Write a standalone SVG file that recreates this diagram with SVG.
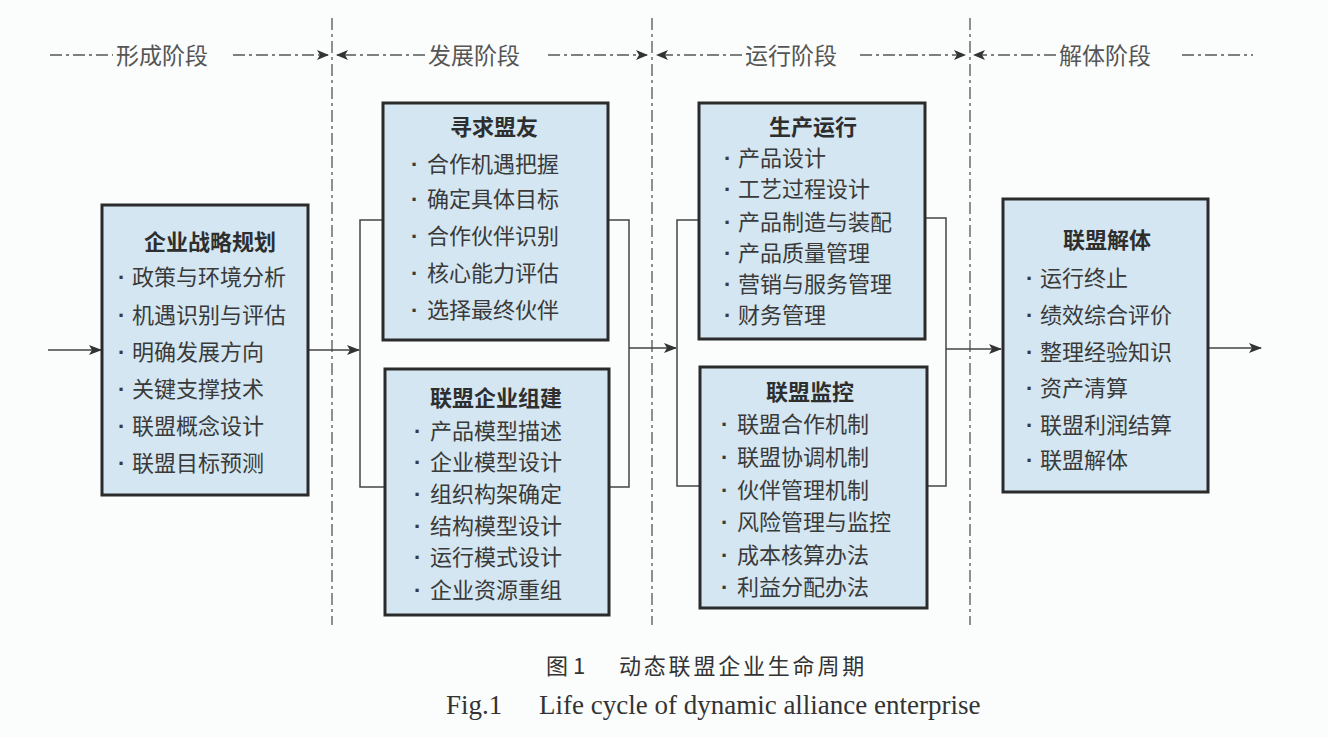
<svg xmlns="http://www.w3.org/2000/svg" width="1328" height="737" viewBox="0 0 1328 737">
<defs>
<style>
.bg{fill:#fbfcfc}
.box{fill:#d3e6f1;stroke:#2b2b2b;stroke-width:3}
.ttl{font-family:"Noto Sans CJK SC",sans-serif;font-size:22px;font-weight:bold;fill:#2e2e2e;text-anchor:middle}
.itm{font-family:"Noto Sans CJK SC",sans-serif;font-size:22px;fill:#3a3a3a}
.bul{font-family:"Liberation Sans",sans-serif;font-weight:bold}
.hdr{font-family:"Noto Sans CJK SC",sans-serif;font-size:23px;fill:#555}
.con{fill:none;stroke:#444;stroke-width:1.5}
.dash{fill:none;stroke:#555;stroke-width:1.5;stroke-dasharray:12 4 3 4}
.vdash{fill:none;stroke:#555;stroke-width:1.3;stroke-dasharray:12 4 3 4}
.cap{font-family:"Noto Sans CJK SC",sans-serif;font-size:22px;fill:#333}
.capen{font-family:"Liberation Serif",serif;font-size:27px;fill:#333}
</style>
<marker id="ar" markerWidth="13" markerHeight="10" refX="12" refY="5" orient="auto" markerUnits="userSpaceOnUse">
<path d="M0,0 L13,5 L0,10 L3,5 Z" fill="#333"/>
</marker>
<marker id="ah" markerWidth="12" markerHeight="10" refX="11" refY="5" orient="auto" markerUnits="userSpaceOnUse">
<path d="M0,0 L12,5 L0,10 L3,5 Z" fill="#333"/>
</marker>
</defs>
<rect class="bg" x="0" y="0" width="1328" height="737"/>

<g id="phase-dividers">
<line class="vdash" x1="332" y1="18" x2="332" y2="625"/>
<line class="vdash" x1="652" y1="18" x2="652" y2="625"/>
<line class="vdash" x1="970" y1="18" x2="970" y2="625"/>
</g>

<g id="phase-headers">
<line class="dash" x1="50" y1="55" x2="113" y2="55"/>
<text class="hdr" x="116" y="64">形成阶段</text>
<line class="dash" x1="233" y1="55" x2="328" y2="55" marker-end="url(#ah)"/>
<line class="dash" x1="425" y1="55" x2="337" y2="55" marker-end="url(#ah)"/>
<text class="hdr" x="428" y="64">发展阶段</text>
<line class="dash" x1="548" y1="55" x2="647" y2="55" marker-end="url(#ah)"/>
<line class="dash" x1="742" y1="55" x2="657" y2="55" marker-end="url(#ah)"/>
<text class="hdr" x="745" y="64">运行阶段</text>
<line class="dash" x1="860" y1="55" x2="965" y2="55" marker-end="url(#ah)"/>
<line class="dash" x1="1056" y1="55" x2="974" y2="55" marker-end="url(#ah)"/>
<text class="hdr" x="1059" y="64">解体阶段</text>
<line class="dash" x1="1182" y1="55" x2="1253" y2="55"/>
</g>

<g id="connectors">
<line class="con" x1="48" y1="350" x2="101" y2="350" marker-end="url(#ar)"/>
<line class="con" x1="309" y1="350" x2="359" y2="350" marker-end="url(#ar)"/>
<polyline class="con" points="383,220 360,220 360,487 385,487"/>
<polyline class="con" points="608,220 629,220 629,487 609,487"/>
<line class="con" x1="629" y1="348" x2="676" y2="348" marker-end="url(#ar)"/>
<polyline class="con" points="699,220 677,220 677,486 700,486"/>
<polyline class="con" points="925,218 946,218 946,486 927,486"/>
<line class="con" x1="946" y1="349" x2="1001" y2="349" marker-end="url(#ar)"/>
<line class="con" x1="1208" y1="348" x2="1261" y2="348" marker-end="url(#ar)"/>
</g>

<g id="node-strategy">
<rect class="box" x="102" y="205" width="206" height="290"/>
<text class="ttl" x="210" y="250">企业战略规划</text>
<text class="itm"><tspan class="bul" x="118" y="285">·</tspan><tspan x="132" y="285">政策与环境分析</tspan></text>
<text class="itm"><tspan class="bul" x="118" y="323">·</tspan><tspan x="132" y="323">机遇识别与评估</tspan></text>
<text class="itm"><tspan class="bul" x="118" y="360">·</tspan><tspan x="132" y="360">明确发展方向</tspan></text>
<text class="itm"><tspan class="bul" x="118" y="397">·</tspan><tspan x="132" y="397">关键支撑技术</tspan></text>
<text class="itm"><tspan class="bul" x="118" y="434">·</tspan><tspan x="132" y="434">联盟概念设计</tspan></text>
<text class="itm"><tspan class="bul" x="118" y="471">·</tspan><tspan x="132" y="471">联盟目标预测</tspan></text>
</g>

<g id="node-seek-partners">
<rect class="box" x="383" y="103" width="225" height="237"/>
<text class="ttl" x="494" y="135">寻求盟友</text>
<text class="itm"><tspan class="bul" x="411" y="172">·</tspan><tspan x="427" y="172">合作机遇把握</tspan></text>
<text class="itm"><tspan class="bul" x="411" y="207">·</tspan><tspan x="427" y="207">确定具体目标</tspan></text>
<text class="itm"><tspan class="bul" x="411" y="244">·</tspan><tspan x="427" y="244">合作伙伴识别</tspan></text>
<text class="itm"><tspan class="bul" x="411" y="281">·</tspan><tspan x="427" y="281">核心能力评估</tspan></text>
<text class="itm"><tspan class="bul" x="411" y="318">·</tspan><tspan x="427" y="318">选择最终伙伴</tspan></text>
</g>

<g id="node-alliance-build">
<rect class="box" x="385" y="369" width="224" height="246"/>
<text class="ttl" x="496" y="406">联盟企业组建</text>
<text class="itm"><tspan class="bul" x="414" y="439">·</tspan><tspan x="430" y="439">产品模型描述</tspan></text>
<text class="itm"><tspan class="bul" x="414" y="470">·</tspan><tspan x="430" y="470">企业模型设计</tspan></text>
<text class="itm"><tspan class="bul" x="414" y="502">·</tspan><tspan x="430" y="502">组织构架确定</tspan></text>
<text class="itm"><tspan class="bul" x="414" y="534">·</tspan><tspan x="430" y="534">结构模型设计</tspan></text>
<text class="itm"><tspan class="bul" x="414" y="565">·</tspan><tspan x="430" y="565">运行模式设计</tspan></text>
<text class="itm"><tspan class="bul" x="414" y="598">·</tspan><tspan x="430" y="598">企业资源重组</tspan></text>
</g>

<g id="node-production">
<rect class="box" x="699" y="103" width="226" height="236"/>
<text class="ttl" x="813" y="135">生产运行</text>
<text class="itm"><tspan class="bul" x="724" y="166">·</tspan><tspan x="738" y="166">产品设计</tspan></text>
<text class="itm"><tspan class="bul" x="724" y="197">·</tspan><tspan x="738" y="197">工艺过程设计</tspan></text>
<text class="itm"><tspan class="bul" x="724" y="230">·</tspan><tspan x="738" y="230">产品制造与装配</tspan></text>
<text class="itm"><tspan class="bul" x="724" y="261">·</tspan><tspan x="738" y="261">产品质量管理</tspan></text>
<text class="itm"><tspan class="bul" x="724" y="292">·</tspan><tspan x="738" y="292">营销与服务管理</tspan></text>
<text class="itm"><tspan class="bul" x="724" y="323">·</tspan><tspan x="738" y="323">财务管理</tspan></text>
</g>

<g id="node-monitoring">
<rect class="box" x="700" y="367" width="227" height="241"/>
<text class="ttl" x="810" y="400">联盟监控</text>
<text class="itm"><tspan class="bul" x="721" y="432">·</tspan><tspan x="737" y="432">联盟合作机制</tspan></text>
<text class="itm"><tspan class="bul" x="721" y="465">·</tspan><tspan x="737" y="465">联盟协调机制</tspan></text>
<text class="itm"><tspan class="bul" x="721" y="498">·</tspan><tspan x="737" y="498">伙伴管理机制</tspan></text>
<text class="itm"><tspan class="bul" x="721" y="530">·</tspan><tspan x="737" y="530">风险管理与监控</tspan></text>
<text class="itm"><tspan class="bul" x="721" y="563">·</tspan><tspan x="737" y="563">成本核算办法</tspan></text>
<text class="itm"><tspan class="bul" x="721" y="595">·</tspan><tspan x="737" y="595">利益分配办法</tspan></text>
</g>

<g id="node-dissolution">
<rect class="box" x="1003" y="199" width="205" height="293"/>
<text class="ttl" x="1107" y="248">联盟解体</text>
<text class="itm"><tspan class="bul" x="1026" y="286">·</tspan><tspan x="1040" y="286">运行终止</tspan></text>
<text class="itm"><tspan class="bul" x="1026" y="323">·</tspan><tspan x="1040" y="323">绩效综合评价</tspan></text>
<text class="itm"><tspan class="bul" x="1026" y="360">·</tspan><tspan x="1040" y="360">整理经验知识</tspan></text>
<text class="itm"><tspan class="bul" x="1026" y="396">·</tspan><tspan x="1040" y="396">资产清算</tspan></text>
<text class="itm"><tspan class="bul" x="1026" y="433">·</tspan><tspan x="1040" y="433">联盟利润结算</tspan></text>
<text class="itm"><tspan class="bul" x="1026" y="468">·</tspan><tspan x="1040" y="468">联盟解体</tspan></text>
</g>

<g id="caption">
<text class="cap"><tspan x="546" y="674">图 1</tspan><tspan x="619" y="674" letter-spacing="2.8">动态联盟企业生命周期</tspan></text>
<text class="capen"><tspan x="446" y="714">Fig.1</tspan><tspan x="539" y="714">Life cycle of dynamic alliance enterprise</tspan></text>
</g>
</svg>
